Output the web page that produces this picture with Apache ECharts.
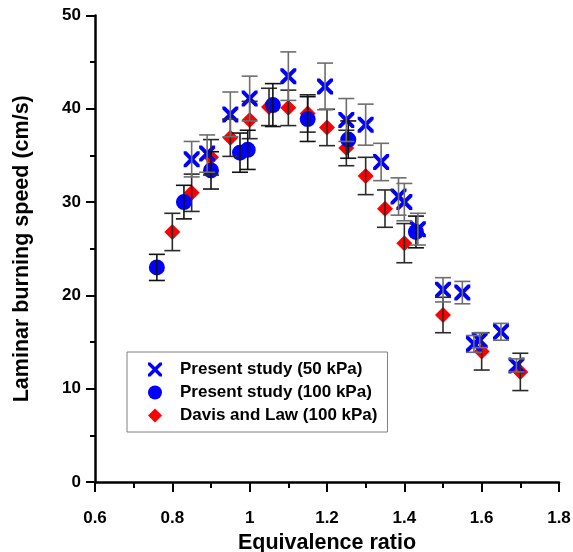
<!DOCTYPE html>
<html>
<head>
<meta charset="utf-8">
<script src="https://cdn.jsdelivr.net/npm/echarts@6/dist/echarts.min.js"></script>
<style>
html,body{margin:0;padding:0;background:#fff;}
#chart{width:573px;height:552px;}
</style>
</head>
<body>
<div id="chart"></div>
<script>
// Present study (50 kPa)
const phi50   = [0.85, 0.89, 0.95, 1.00, 1.10, 1.195, 1.25, 1.30, 1.34, 1.385, 1.40, 1.435, 1.50, 1.55, 1.58, 1.595, 1.65, 1.69];
const speed50 = [34.6, 35.2, 39.4, 41.1, 43.5, 42.4, 38.8, 38.3, 34.3, 30.6, 30.0, 27.1, 20.6, 20.3, 14.8, 15.2, 16.1, 12.5];
const err50   = [1.9, 2.0, 2.4, 2.4, 2.6, 2.5, 2.3, 2.2, 2.0, 2.0, 2.0, 1.7, 1.3, 1.2, 0.9, 0.8, 0.9, 0.7];
// Present study (100 kPa)
const phi100   = [0.76, 0.83, 0.90, 0.975, 0.995, 1.06, 1.15, 1.255, 1.43];
const speed100 = [23.0, 30.0, 33.4, 35.3, 35.6, 40.4, 38.9, 36.7, 26.8];
const err100   = [1.4, 1.8, 2.0, 2.1, 2.1, 2.3, 2.4, 2.0, 1.7];
// Davis and Law (100 kPa)
const phiDL   = [0.80, 0.85, 0.90, 0.95, 1.00, 1.05, 1.10, 1.15, 1.20, 1.25, 1.30, 1.35, 1.40, 1.50, 1.60, 1.70];
const speedDL = [26.8, 31.0, 34.8, 36.9, 38.8, 40.2, 40.1, 39.5, 38.0, 35.8, 32.8, 29.3, 25.6, 17.9, 14.0, 11.8];
const errDL   = [2.0, 2.0, 1.9, 2.0, 2.0, 2.0, 1.9, 2.0, 1.95, 1.9, 2.0, 2.0, 2.1, 1.9, 2.0, 2.0];

const seriesNames = ['Present study (50 kPa)', 'Present study (100 kPa)', 'Davis and Law (100 kPa)'];
const xTitle = 'Equivalence ratio';
const yTitle = 'Laminar burning speed (cm/s)';

const XPATH = 'path://M0,0 L3.5,0 L10,6.5 L16.5,0 L20,0 L20,3.5 L13.5,10 L20,16.5 L20,20 L16.5,20 L10,13.5 L3.5,20 L0,20 L0,16.5 L6.5,10 L0,3.5 Z';
const DPATH = 'path://M10,0 L20,10 L10,20 L0,10 Z';
const FONT = '"Liberation Sans", Arial, sans-serif';

function pts(xs, ys) { return xs.map((x, i) => [x, ys[i]]); }
function bars(xs, ys, es) { return xs.map((x, i) => [x, ys[i] - es[i], ys[i] + es[i]]); }

function errSeries(data, color) {
  return {
    type: 'custom',
    silent: true,
    z: 5,
    data: data,
    encode: { x: 0, y: [1, 2] },
    renderItem: function (params, api) {
      const x = api.value(0), lo = api.value(1), hi = api.value(2);
      const a = api.coord([x, hi]), b = api.coord([x, lo]);
      const hw = 8;
      const st = { stroke: color, lineWidth: 1.6 };
      return {
        type: 'group',
        children: [
          { type: 'line', shape: { x1: a[0], y1: a[1], x2: b[0], y2: b[1] }, style: st },
          { type: 'line', shape: { x1: a[0] - hw, y1: a[1], x2: a[0] + hw, y2: a[1] }, style: st },
          { type: 'line', shape: { x1: b[0] - hw, y1: b[1], x2: b[0] + hw, y2: b[1] }, style: st }
        ]
      };
    }
  };
}

const chart = echarts.init(document.getElementById('chart'), null, { renderer: 'canvas' });
const axisCommon = {
  axisLine: { show: true, lineStyle: { color: '#000', width: 2.5 } },
  axisTick: { show: true, inside: false, length: 10, lineStyle: { color: '#000', width: 2 } },
  minorTick: { show: true, splitNumber: 2, length: 6, lineStyle: { color: '#000', width: 2 } },
  splitLine: { show: false },
  axisLabel: { color: '#000', fontFamily: FONT, fontWeight: 'bold', fontSize: 17 },
  nameTextStyle: { color: '#000', fontFamily: FONT, fontWeight: 'bold', fontSize: 21.5 }
};

chart.setOption({
  animation: false,
  backgroundColor: '#fff',
  grid: { left: 95, right: 14, top: 15.5, bottom: 70, containLabel: false, outerBoundsMode: 'none' },
  xAxis: Object.assign({}, axisCommon, {
    type: 'value', min: 0.6, max: 1.8, interval: 0.2,
    name: xTitle, nameLocation: 'middle', nameGap: 46,
    axisLabel: Object.assign({}, axisCommon.axisLabel, { margin: 28, formatter: v => String(+v.toFixed(1)) })
  }),
  yAxis: Object.assign({}, axisCommon, {
    type: 'value', min: 0, max: 50, interval: 10,
    name: yTitle, nameLocation: 'middle', nameGap: 62, nameRotate: 90,
    axisTick: Object.assign({}, axisCommon.axisTick, { length: 9 }),
    minorTick: Object.assign({}, axisCommon.minorTick, { length: 5 }),
    axisLabel: Object.assign({}, axisCommon.axisLabel, { margin: 14 })
  }),
  legend: {
    orient: 'vertical', left: 127, top: 352,
    padding: [9, 10, 8, 21], itemGap: 6, itemWidth: 40, itemHeight: 14,
    backgroundColor: '#fff', borderColor: '#808080', borderWidth: 1,
    textStyle: { color: '#000', fontFamily: FONT, fontWeight: 'bold', fontSize: 17 },
    data: [
      { name: seriesNames[0], icon: XPATH },
      { name: seriesNames[1], icon: 'circle' },
      { name: seriesNames[2], icon: DPATH }
    ]
  },
  series: [
    { name: seriesNames[2], type: 'scatter', symbol: 'diamond', symbolSize: 16, z: 2,
      itemStyle: { color: '#ff0000', opacity: 1 }, data: pts(phiDL, speedDL) },
    { name: seriesNames[1], type: 'scatter', symbol: 'circle', symbolSize: 16, z: 3,
      itemStyle: { color: '#0000ff', opacity: 1 }, data: pts(phi100, speed100) },
    { name: seriesNames[0], type: 'scatter', symbol: XPATH, symbolSize: 16, z: 4,
      itemStyle: { color: '#0000ff', opacity: 1 }, data: pts(phi50, speed50) },
    errSeries(bars(phiDL, speedDL, errDL), '#2a2a2a'),
    errSeries(bars(phi100, speed100, err100), '#111111'),
    errSeries(bars(phi50, speed50, err50), '#6e6e6e')
  ]
});
</script>
</body>
</html>
